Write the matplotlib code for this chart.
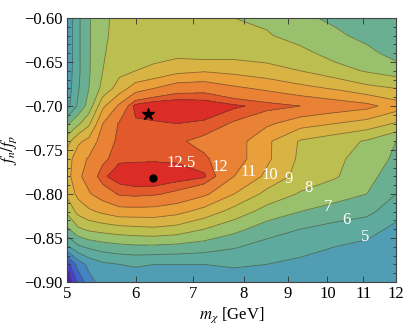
import numpy as np
import matplotlib.pyplot as plt
from matplotlib.ticker import FixedLocator, MultipleLocator, NullLocator, FuncFormatter

plt.rcParams['font.family'] = 'serif'
plt.rcParams['font.serif'] = ['Liberation Serif', 'DejaVu Serif']
plt.rcParams['mathtext.fontset'] = 'stix'

# grid
m_chi = [5.0, 5.15, 5.3, 5.5, 5.75, 6.0, 6.3, 6.7, 7.2, 7.8, 8.5, 9.3, 10.2, 11.1, 12.0]
fn_fp = [-0.90, -0.88, -0.86, -0.84, -0.82, -0.80, -0.78, -0.76,
         -0.74, -0.72, -0.70, -0.68, -0.66, -0.64, -0.62, -0.60]

# one row per fn_fp value, one column per m_chi value
signif = [
    [0.0, 2.2, 3.6, 4.5, 4.6, 4.5, 4.5, 4.5, 4.5, 4.6, 4.6, 4.5, 4.5, 4.5, 4.4],
    [1.5, 3.4, 4.3, 4.8, 5.0, 5.1, 5.0, 5.0, 5.0, 5.1, 5.0, 4.8, 4.7, 4.6, 4.5],
    [4.8, 5.8, 6.2, 6.5, 6.7, 6.8, 6.8, 6.7, 6.5, 6.1, 5.6, 5.3, 5.0, 4.8, 4.6],
    [6.8, 7.8, 8.2, 8.4, 8.6, 8.7, 8.8, 8.6, 8.0, 7.3, 6.5, 6.0, 5.6, 5.3, 4.8],
    [8.2, 9.3, 9.8, 10.2, 10.6, 10.6, 10.6, 10.3, 9.6, 8.6, 7.6, 7.0, 6.6, 6.3, 5.3],
    [9.2, 10.3, 10.9, 11.5, 12.1, 12.2, 12.1, 11.8, 11.2, 10.0, 8.7, 7.9, 7.4, 7.0, 6.0],
    [9.6, 10.8, 11.4, 12.4, 12.8, 12.9, 13.0, 12.8, 12.6, 11.0, 9.8, 8.6, 8.1, 7.3, 6.5],
    [9.5, 10.6, 11.1, 11.8, 12.4, 12.4, 12.4, 12.4, 12.1, 11.5, 10.2, 8.8, 8.2, 7.6, 6.8],
    [8.6, 9.8, 10.3, 11.5, 12.2, 12.2, 12.2, 12.1, 11.8, 11.5, 10.2, 8.9, 8.4, 7.9, 7.0],
    [6.8, 7.8, 8.8, 11.0, 12.1, 12.4, 12.4, 12.5, 12.4, 11.9, 11.2, 10.4, 10.0, 9.6, 8.9],
    [4.6, 6.2, 7.4, 9.8, 11.2, 12.7, 13.0, 13.0, 12.9, 12.6, 12.3, 12.0, 11.6, 11.3, 10.5],
    [4.4, 5.9, 7.0, 8.3, 9.5, 10.5, 11.0, 11.6, 11.7, 11.2, 10.8, 10.3, 9.9, 9.3, 9.0],
    [4.3, 5.8, 6.9, 8.0, 8.7, 9.0, 9.2, 9.7, 9.9, 9.7, 9.4, 9.0, 8.4, 7.9, 7.5],
    [4.2, 5.8, 6.9, 7.9, 8.5, 8.7, 8.7, 8.7, 8.5, 8.6, 8.5, 8.3, 7.6, 7.3, 6.6],
    [4.2, 5.8, 6.9, 7.8, 8.4, 8.6, 8.6, 8.5, 8.4, 8.2, 8.1, 7.6, 7.2, 6.7, 6.3],
    [4.2, 5.8, 6.9, 7.8, 8.3, 8.5, 8.5, 8.4, 8.3, 8.0, 7.8, 7.2, 6.8, 6.4, 6.1],
]

levels = [-1, 1, 2, 3, 4, 5, 6, 7, 8, 9, 10, 11, 12, 12.5, 14]
band_colors = ['#4a1fa6', '#4a3ec2', '#3f63c8', '#4484c2', '#519db4', '#5eaa9e',
               '#6aaf92', '#98c06d', '#bdbe50', '#d7b443', '#e9a03a', '#e98234',
               '#e2592b', '#dc2c26']

label_text = ['12.5', '12', '11', '10', '9', '8', '7', '6', '5']
label_x = [6.78, 7.51, 8.10, 8.58, 9.01, 9.50, 10.02, 10.52, 11.05]
label_y = [-0.765, -0.769, -0.7747, -0.7784, -0.7833, -0.7935, -0.8144, -0.8295, -0.8492]

best_star = (6.207, -0.709)
best_dot = (6.29, -0.782)

fig = plt.figure(figsize=(4.05, 3.27), dpi=100)
ax = fig.add_axes([67 / 405, 45 / 327, 329 / 405, 264 / 327])

X, Y = np.meshgrid(m_chi, fn_fp)
Z = np.array(signif)
ax.contourf(X, Y, Z, levels=levels, colors=band_colors)
ax.contour(X, Y, Z, levels=levels[1:-1], colors='#3a3a2a', linewidths=0.6, alpha=0.55)

for t, x, y in zip(label_text, label_x, label_y):
    ax.text(x, y, t, color='white', fontsize=12, ha='center', va='center')

ax.plot(*best_star, marker='*', color='black', markersize=9, linestyle='none')
ax.plot(*best_dot, marker='o', color='black', markersize=5, linestyle='none')

ax.set_xscale('log')
ax.set_xlim(5, 12)
ax.set_ylim(-0.90, -0.60)
ax.xaxis.set_major_locator(FixedLocator(range(5, 13)))
ax.xaxis.set_minor_locator(NullLocator())
ax.xaxis.set_major_formatter(FuncFormatter(lambda v, p: f"{v:.0f}"))
ax.yaxis.set_major_locator(MultipleLocator(0.05))
ax.yaxis.set_minor_locator(MultipleLocator(0.01))
ax.yaxis.set_major_formatter(FuncFormatter(lambda v, p: f"{v:.2f}".replace('-', '\u2212')))
ax.tick_params(which='both', direction='in', top=True, right=True, labelsize=12,
               color='#333333', width=0.6)
ax.tick_params(which='major', length=4, pad=3)
ax.tick_params(which='minor', length=2)
for s in ax.spines.values():
    s.set_color('#444444')
    s.set_linewidth(0.8)

ax.set_xlabel(r'$m_\chi$ [GeV]', fontsize=12, labelpad=2)
ax.set_ylabel(r'$f_n/f_p$', fontsize=12, labelpad=4)

fig.savefig('out.png', dpi=100)
